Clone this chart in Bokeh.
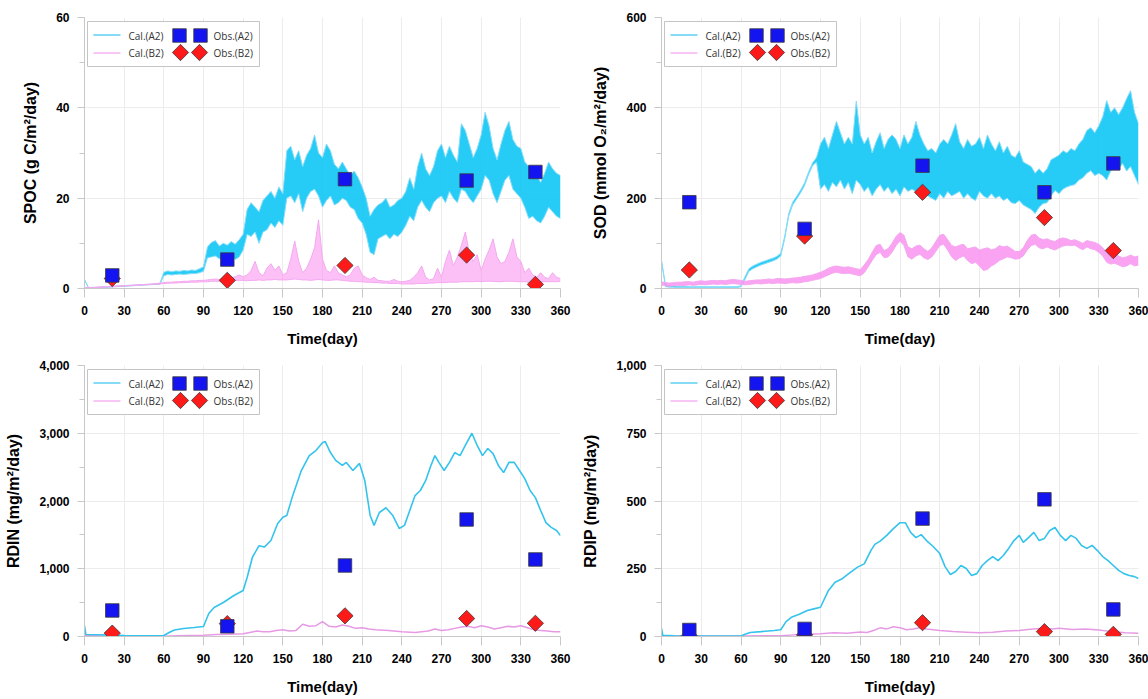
import numpy as np
from bokeh.plotting import figure
from bokeh.layouts import column, row
from bokeh.models import Range1d, SingleIntervalTicker, NumeralTickFormatter
from bokeh.embed import file_html
from bokeh.resources import INLINE
from bokeh.core.properties import value

# ---------------- data ----------------
DAYS3 = list(range(0, 361, 3))
OBS_DAYS = [21, 108, 197, 289, 341]

SPOC_A2_LO = [2.0, 0.1, 0.1, 0.15, 0.2, 0.25, 0.3, 0.35, 0.4, 0.45,
              0.5, 0.55, 0.6, 0.65, 0.7, 0.75, 0.8, 0.85, 0.9, 0.95,
              2.8, 3.1, 3.0, 3.1, 3.2, 3.1, 3.2, 3.3, 3.3, 3.5,
              3.8, 6.8, 7.0, 7.2, 6.6, 6.9, 6.5, 7.3, 6.4, 7.0,
              8.5, 12.0, 11.5, 12.5, 10.0, 12.5, 13.0, 14.5, 13.5, 15.0,
              14.0, 20.0, 20.5, 19.0, 21.0, 17.0, 20.0, 21.5, 22.0, 20.5,
              18.0, 19.5, 20.5, 18.5, 19.0, 20.0, 19.5, 18.0, 17.5, 15.5,
              14.5, 12.0, 8.0, 7.5, 11.0, 11.5, 12.0, 11.0, 12.0, 11.5,
              12.5, 14.0, 16.0, 15.0, 18.0, 19.5, 18.0, 17.0, 19.0, 20.0,
              20.5, 19.0, 21.5, 20.0, 19.0, 22.0, 21.5, 20.0, 19.0, 20.5,
              22.0, 25.0, 24.0, 21.0, 19.0, 21.5, 24.0, 25.0, 22.0, 21.0,
              20.0, 18.0, 15.5, 16.0, 15.0, 14.5, 16.0, 18.0, 17.0, 16.0,
              15.5]
SPOC_A2_HI = [2.0, 0.2, 0.2, 0.25, 0.3, 0.35, 0.4, 0.45, 0.5, 0.55,
              0.6, 0.65, 0.7, 0.75, 0.8, 0.85, 0.9, 0.95, 1.0, 1.1,
              3.6, 3.9, 3.7, 3.9, 3.8, 4.0, 3.9, 4.1, 4.0, 4.4,
              4.8, 9.2, 10.2, 10.6, 9.4, 10.0, 9.6, 10.4, 9.8, 10.8,
              12.0, 17.5, 19.0, 18.0, 17.0, 19.5, 20.5, 21.5, 20.0, 22.5,
              21.0, 30.5, 31.5, 28.5, 30.5, 27.0, 29.5, 31.0, 34.0, 30.0,
              29.0, 32.0, 30.5, 27.5, 26.5, 28.0, 26.5, 25.0, 26.0, 24.5,
              22.5, 20.0, 16.0, 17.5, 18.5, 19.0, 20.0, 18.0, 18.5, 19.5,
              20.0, 21.5, 24.5, 22.0, 27.0, 30.0, 26.5, 25.0, 27.0, 30.5,
              32.0, 29.0, 31.5, 29.5, 28.0, 36.5, 35.0, 32.0, 29.0, 31.0,
              34.0, 39.0, 36.0, 31.0, 28.5, 32.0, 35.0, 37.0, 33.0, 31.5,
              31.0, 28.0, 27.0, 26.0, 25.0, 23.5, 25.5, 28.0, 26.5, 25.5,
              25.0]
SPOC_B2_LO = [0.1, 0.1, 0.15, 0.2, 0.25, 0.3, 0.35, 0.4, 0.45, 0.5,
              0.55, 0.6, 0.65, 0.7, 0.75, 0.8, 0.85, 0.9, 0.95, 1.0,
              1.1, 1.15, 1.2, 1.2, 1.3, 1.3, 1.35, 1.4, 1.4, 1.45,
              1.5, 1.5, 1.6, 1.6, 1.6, 1.7, 1.7, 1.7, 1.8, 1.8,
              1.8, 1.7, 1.8, 1.8, 1.9, 1.8, 1.9, 1.9, 2.0, 1.9,
              1.9, 1.9, 2.0, 2.1, 2.0, 1.9, 1.9, 1.8, 1.9, 2.0,
              1.9, 1.8, 1.8, 1.9, 1.9, 1.8, 1.7, 1.6, 1.6, 1.5,
              1.5, 1.4, 1.4, 1.3, 1.3, 1.2, 1.2, 1.1, 1.1, 1.1,
              1.0, 1.0, 1.0, 1.0, 1.1, 1.1, 1.1, 1.2, 1.2, 1.3,
              1.3, 1.3, 1.4, 1.4, 1.4, 1.5, 1.5, 1.5, 1.5, 1.6,
              1.5, 1.6, 1.6, 1.6, 1.5, 1.5, 1.6, 1.6, 1.6, 1.5,
              1.5, 1.5, 1.4, 1.4, 1.4, 1.4, 1.5, 1.5, 1.5, 1.5,
              1.6]
SPOC_B2_HI = [0.2, 0.2, 0.25, 0.3, 0.35, 0.4, 0.45, 0.5, 0.55, 0.6,
              0.65, 0.7, 0.75, 0.8, 0.85, 0.9, 0.95, 1.0, 1.1, 1.2,
              1.3, 1.4, 1.4, 1.5, 1.5, 1.6, 1.6, 1.7, 1.7, 1.8,
              1.8, 1.9, 2.0, 2.1, 2.0, 2.2, 2.2, 2.4, 2.6, 3.0,
              2.6, 3.0, 4.0, 6.0, 3.5, 2.8, 4.5, 5.5, 4.0, 5.0,
              3.0, 3.5, 6.5, 10.5, 6.0, 3.5, 4.5, 6.5, 9.0, 15.2,
              6.5, 4.0, 3.5, 5.0, 3.5, 3.0, 2.6, 3.0, 4.5, 5.0,
              3.0, 2.4, 2.0, 2.5, 1.8, 1.7, 1.6, 1.6, 2.0, 1.6,
              1.5, 1.6, 1.8, 2.5, 3.5, 5.0, 2.5, 1.9, 2.2, 4.5,
              2.5, 6.0, 8.5, 5.0, 7.0, 9.5, 12.5, 8.0, 6.0, 7.5,
              4.0, 6.5, 8.5, 11.0, 7.0, 5.5, 6.0, 8.0, 11.0, 7.0,
              6.0, 3.5, 4.5, 3.0, 2.5, 3.5, 2.5, 2.2, 3.5, 2.5,
              2.2]

SOD_A2_LO = [60, 4, 3, 3, 2, 2, 2, 2, 2, 2,
             2, 2, 2, 2, 2, 2, 2, 2, 2, 2,
             4, 20, 38, 44, 48, 52, 55, 58, 61, 65,
             72, 110, 160, 185, 198, 212, 228, 252, 272, 280,
             220, 230, 215, 235, 225, 240, 220, 235, 210, 240,
             230, 215, 225, 205, 220, 230, 215, 225, 210, 220,
             205, 225, 215, 220, 215, 225, 210, 205, 200, 195,
             210, 200, 215, 205, 210, 215, 200, 210, 200, 195,
             215, 205, 200, 210, 200, 205, 195, 200, 190, 188,
             195, 185, 180, 175, 166, 180, 188, 190, 205, 217,
             210, 220, 225, 228, 230, 240, 245, 255, 261, 250,
             255, 250, 240, 260, 270, 265, 277, 260, 270, 250,
             230]
SOD_A2_HI = [62, 8, 6, 6, 5, 5, 5, 4, 4, 4,
             4, 4, 4, 4, 4, 4, 4, 4, 4, 4,
             6, 26, 44, 50, 54, 58, 61, 64, 67, 71,
             78, 116, 166, 191, 204, 218, 234, 258, 278, 290,
             320, 335, 310, 340, 370, 345, 320, 335, 320, 415,
             340, 320, 335, 300, 325, 345, 310, 330, 340, 330,
             310, 340, 320, 335, 370, 340, 320, 305, 310, 300,
             320, 330, 320, 340, 365, 325, 310, 330, 315, 320,
             335, 310, 340, 320, 305, 325, 300, 315, 295, 290,
             305, 280, 275, 270, 255, 265, 255, 265, 285, 290,
             295, 305, 300, 310, 305, 320, 330, 350, 356, 345,
             360, 380, 416, 390, 400, 385, 400, 420, 438, 390,
             365]
SOD_B2_LO = [8, 6, 5, 6, 7, 6, 7, 8, 7, 8,
             9, 8, 9, 10, 9, 10, 9, 10, 11, 10,
             9, 8, 9, 10, 11, 10, 11, 12, 11, 12,
             12, 11, 12, 13, 12, 13, 15, 16, 18, 20,
             22, 26, 30, 34, 36, 34, 33, 34, 32, 30,
             28, 35, 48, 62, 75, 80, 68, 70, 80, 95,
             105, 95, 70, 65, 72, 76, 68, 64, 70, 82,
             95, 98, 85, 70, 62, 68, 72, 62, 55, 58,
             50, 40, 42, 50, 55, 62, 66, 70, 68, 65,
             66, 72, 85, 95, 98, 90, 88, 92, 88, 85,
             90, 94, 96, 95, 96, 90, 86, 92, 88, 86,
             80, 72, 58, 54, 56, 52, 48, 50, 55, 50,
             52]
SOD_B2_HI = [15, 13, 12, 13, 14, 14, 15, 15, 14, 16,
             17, 16, 17, 18, 17, 18, 17, 19, 20, 19,
             18, 16, 17, 18, 19, 19, 20, 21, 20, 22,
             22, 21, 22, 23, 24, 25, 27, 28, 30, 33,
             36, 40, 45, 48, 50, 48, 47, 48, 46, 44,
             42, 52, 64, 80, 95, 98, 84, 88, 100, 115,
             124, 118, 92, 88, 94, 96, 88, 82, 90, 104,
             118, 120, 108, 95, 92, 96, 98, 88, 90, 92,
             85, 88, 90, 86, 88, 95, 92, 94, 88, 82,
             82, 90, 106, 118, 120, 112, 108, 110, 106, 104,
             110, 112, 110, 106, 108, 104, 100, 106, 104, 102,
             98, 90, 80, 76, 78, 72, 68, 70, 74, 70,
             72]

RDIN_A2_DAYS = [0, 1, 10, 20, 30, 40, 50, 60, 64, 68, 75, 83, 90, 94, 98, 105, 113, 120,
                123, 127, 132, 136, 141, 146, 150, 153, 157, 164, 170, 175, 180, 182, 186,
                190, 195, 198, 203, 208, 212, 216, 219, 223, 228, 233, 238, 242, 246, 250,
                254, 258, 262, 265, 268, 272, 276, 280, 284, 288, 293, 297, 301, 305, 309,
                313, 317, 321, 325, 329, 333, 337, 341, 345, 349, 353, 357, 360]
RDIN_A2 = [160, 30, 25, 20, 15, 12, 10, 15, 60, 95, 118, 133, 148, 340, 428, 502, 605, 680,
           870, 1170, 1340, 1320, 1417, 1665, 1760, 1785, 2050, 2450, 2670, 2745, 2860, 2880, 2715,
           2600, 2525, 2570, 2450, 2555, 2300, 1790, 1640, 1830, 1900, 1790, 1595, 1640, 1860, 2080,
           2155, 2300, 2525, 2670, 2570, 2450, 2570, 2715, 2670, 2820, 3000, 2820, 2670, 2775, 2700,
           2525, 2420, 2570, 2570, 2450, 2330, 2155, 2050, 1860, 1680, 1610, 1565, 1490]
RDIN_B2_DAYS = [0, 10, 30, 60, 70, 80, 90, 100, 110, 120, 125, 130, 135, 140, 145, 150, 155,
                160, 165, 170, 175, 180, 185, 190, 195, 200, 205, 210, 215, 220, 230, 240, 250,
                260, 265, 270, 275, 280, 285, 290, 295, 300, 305, 310, 315, 320, 325, 330, 335,
                340, 345, 350, 355, 360]
RDIN_B2 = [20, 10, 5, 5, 10, 15, 20, 30, 35, 40, 60, 80, 70, 70, 90, 100, 80,
           90, 180, 150, 160, 220, 150, 140, 170, 150, 120, 130, 110, 100, 90, 70, 60,
           80, 110, 90, 100, 120, 140, 150, 130, 160, 140, 110, 130, 150, 140, 160, 130,
           100, 90, 80, 70, 70]

RDIP_A2_DAYS = [0, 1, 10, 30, 60, 63, 67, 75, 85, 90, 94, 98, 104, 110, 115, 120, 126, 131,
                136, 141, 148, 153, 158, 161, 165, 170, 175, 180, 184, 188, 192, 196, 200, 205,
                210, 214, 218, 222, 226, 230, 234, 238, 242, 246, 250, 254, 258, 262, 266, 270,
                273, 277, 281, 285, 289, 293, 297, 301, 305, 309, 313, 317, 321, 325, 329, 333,
                337, 341, 345, 349, 353, 357, 360]
RDIP_A2 = [30, 4, 3, 2, 2, 8, 15, 18, 22, 25, 55, 71, 82, 96, 102, 108, 170, 200,
           212, 231, 256, 268, 317, 340, 352, 373, 398, 420, 420, 384, 365, 376, 354, 332,
           306, 258, 229, 240, 262, 251, 225, 232, 262, 280, 295, 280, 299, 325, 354, 373,
           347, 365, 384, 354, 362, 391, 402, 373, 354, 373, 362, 336, 325, 336, 317, 295,
           280, 262, 244, 232, 225, 221, 214]
RDIP_B2_DAYS = [0, 30, 60, 90, 100, 110, 120, 130, 140, 150, 155, 160, 165, 170, 175, 180,
                185, 190, 195, 200, 205, 210, 220, 230, 240, 250, 260, 270, 280, 290, 295, 300,
                310, 320, 330, 340, 350, 360]
RDIP_B2 = [3, 2, 2, 3, 6, 8, 10, 14, 12, 17, 15, 22, 32, 28, 36, 32,
           25, 28, 32, 28, 25, 22, 18, 16, 14, 16, 20, 22, 28, 30, 28, 30,
           26, 28, 24, 18, 14, 12]

SPOC_OBS_A2 = [2.9, 6.4, 24.2, 23.9, 25.8]
SPOC_OBS_B2 = [2.2, 1.8, 5.1, 7.4, 0.9]
SOD_OBS_A2 = [191, 132, 272, 213, 277]
SOD_OBS_B2 = [41, 116, 213, 157, 84]
RDIN_OBS_A2 = [384, 150, 1048, 1727, 1137]
RDIN_OBS_B2 = [50, 190, 305, 266, 195]
RDIP_OBS_A2 = [24, 28, 435, 506, 100]
RDIP_OBS_B2 = [3, 6, 51, 18, 8]

# ---------------- style ----------------
A2_BAND = "#0fc6f5"
A2_EDGE = "#86dcf7"
A2_LINE = "#34c3ec"
B2_BAND = "#f98cef"
B2_EDGE = "#f3a8ef"
B2_LINE = "#e79ae4"
SQ_FILL = "#1414f0"
DM_FILL = "#ff1a1a"
MK_LINE = "#3a3a3a"
AX_COL = "#c8c8c8"
TICK_FONT = "Liberation Sans"


def make_panel(ylabel, ymax, major, fw, fh, bl, br, bt, bb, fmt=None):
    p = figure(width=fw + bl + br, height=fh + bt + bb,
               frame_width=fw, frame_height=fh,
               min_border_left=bl, min_border_right=br,
               min_border_top=bt, min_border_bottom=bb,
               x_range=Range1d(0, 360), y_range=Range1d(0, ymax),
               output_backend="svg", toolbar_location=None)
    p.outline_line_color = None
    p.background_fill_color = "white"
    p.border_fill_color = "white"
    p.xaxis.ticker = SingleIntervalTicker(interval=30, num_minor_ticks=0)
    p.yaxis.ticker = SingleIntervalTicker(interval=major, num_minor_ticks=2)
    if fmt:
        p.yaxis.formatter = NumeralTickFormatter(format=fmt)
    p.xgrid.grid_line_color = "#ececec"
    p.ygrid.grid_line_color = "#ececec"
    for ax in (p.xaxis[0], p.yaxis[0]):
        ax.axis_line_color = AX_COL
        ax.major_tick_line_color = AX_COL
        ax.minor_tick_line_color = AX_COL
        ax.major_tick_in = 0
        ax.minor_tick_in = 0
        ax.major_label_text_font = TICK_FONT
        ax.major_label_text_font_style = "bold"
        ax.major_label_text_font_size = "12px"
        ax.major_label_text_color = "black"
        ax.axis_label_text_font = TICK_FONT
        ax.axis_label_text_font_style = "bold"
        ax.axis_label_text_color = "black"
    p.xaxis.major_tick_out = 9
    p.xaxis.major_label_standoff = 8
    p.xaxis.axis_label = "Time(day)"
    p.xaxis.axis_label_text_font_size = "15px"
    p.xaxis.axis_label_standoff = 12
    p.yaxis.major_tick_out = 7
    p.yaxis.minor_tick_out = 5
    p.yaxis.major_label_standoff = 8
    p.yaxis.axis_label = ylabel
    p.yaxis.axis_label_text_font_size = "16px"
    p.yaxis.axis_label_standoff = 14
    return p


def add_band(p, lo, hi, band, edge, alpha=0.9):
    p.varea(x=DAYS3, y1=lo, y2=hi, fill_color=band, fill_alpha=alpha)
    p.line(DAYS3, hi, line_color=edge, line_width=1)
    p.line(DAYS3, lo, line_color=edge, line_width=1)


def add_obs(p, a2, b2):
    p.scatter(OBS_DAYS, b2, marker="square", angle=np.pi / 4, size=11.5,
              fill_color=DM_FILL, line_color=MK_LINE, line_width=0.8)
    p.scatter(OBS_DAYS, a2, marker="square", size=13.5,
              fill_color=SQ_FILL, line_color=MK_LINE, line_width=0.8)


def add_legend(p, fw, fh, ymax):
    sx = 360.0 / fw
    sy = ymax / fh

    def X(d):
        return d * sx

    def Y(d):
        return ymax - d * sy

    p.quad(left=[X(3)], right=[X(175)], top=[Y(4)], bottom=[Y(49)],
           fill_color="white", line_color="#c4c4c4", line_width=1)
    p.segment(x0=[X(9), X(9)], y0=[Y(17.5), Y(35.5)], x1=[X(36), X(36)], y1=[Y(17.5), Y(35.5)],
              line_color=["#5ccff2", "#f7b5f2"], line_width=1.3)
    p.text(x=[X(44), X(44)], y=[Y(18), Y(35)], text=["Cal.(A2)", "Cal.(B2)"],
           text_font=value("Open Sans"), text_font_size="10px",
           text_color="#333333", text_baseline="middle", text_align="left")
    p.scatter([X(95), X(116)], [Y(18), Y(18)], marker="square", size=13.5,
              fill_color=SQ_FILL, line_color=MK_LINE, line_width=0.8)
    p.scatter([X(96), X(115)], [Y(35), Y(35)], marker="square", angle=np.pi / 4,
              size=11.5, fill_color=DM_FILL, line_color=MK_LINE, line_width=0.8)
    p.text(x=[X(129), X(129)], y=[Y(18), Y(35)], text=["Obs.(A2)", "Obs.(B2)"],
           text_font=value("Open Sans"), text_font_size="10px",
           text_color="#333333", text_baseline="middle", text_align="left")


# SPOC
p1 = make_panel("SPOC (g C/m²/day)", 60, 20, 476, 271, 84, 14, 17, 61)
add_band(p1, SPOC_A2_LO, SPOC_A2_HI, A2_BAND, A2_EDGE)
add_band(p1, SPOC_B2_LO, SPOC_B2_HI, B2_BAND, B2_EDGE, alpha=0.55)
add_obs(p1, SPOC_OBS_A2, SPOC_OBS_B2)
add_legend(p1, 476, 271, 60)

# SOD
p2 = make_panel("SOD (mmol O₂/m²/day)", 600, 200, 477, 271, 87, 10, 17, 61)
add_band(p2, SOD_A2_LO, SOD_A2_HI, A2_BAND, A2_EDGE)
add_band(p2, SOD_B2_LO, SOD_B2_HI, B2_BAND, B2_EDGE, alpha=0.8)
add_obs(p2, SOD_OBS_A2, SOD_OBS_B2)
add_legend(p2, 477, 271, 600)

# RDIN
p3 = make_panel("RDIN (mg/m²/day)", 4000, 1000, 476, 271, 84, 14, 16, 63, fmt="0,0")
p3.line(RDIN_B2_DAYS, RDIN_B2, line_color=B2_LINE, line_width=1.5)
p3.line(RDIN_A2_DAYS, RDIN_A2, line_color=A2_LINE, line_width=1.6)
add_obs(p3, RDIN_OBS_A2, RDIN_OBS_B2)
add_legend(p3, 476, 271, 4000)

# RDIP
p4 = make_panel("RDIP (mg/m²/day)", 1000, 250, 477, 271, 87, 10, 16, 63, fmt="0,0")
p4.line(RDIP_B2_DAYS, RDIP_B2, line_color=B2_LINE, line_width=1.5)
p4.line(RDIP_A2_DAYS, RDIP_A2, line_color=A2_LINE, line_width=1.6)
add_obs(p4, RDIP_OBS_A2, RDIP_OBS_B2)
add_legend(p4, 477, 271, 1000)

layout = column(row(p1, p2), row(p3, p4))
open("out.html", "w").write(file_html(layout, INLINE))
